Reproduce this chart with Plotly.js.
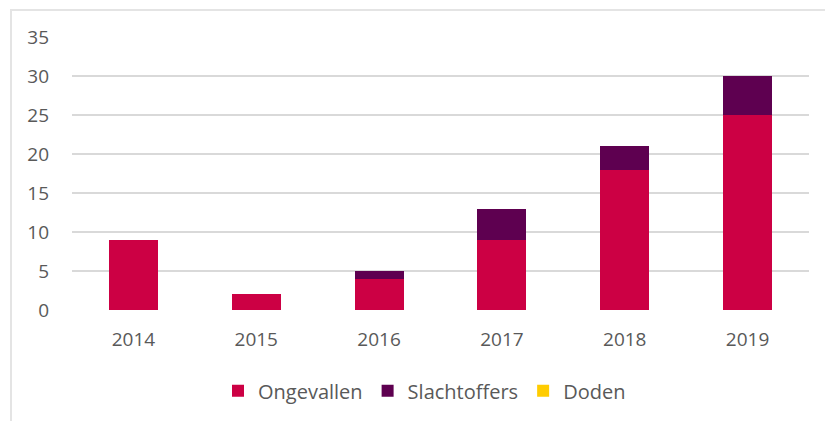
<!DOCTYPE html>
<html>
<head>
<meta charset="utf-8">
<script src="https://cdn.plot.ly/plotly-3.0.1.min.js"></script>
<style>
html,body{margin:0;padding:0;background:#fff;}
#wrap{position:relative;width:825px;height:421px;overflow:hidden;}
#frame{position:absolute;left:10px;top:9px;width:900px;height:500px;border-left:2px solid #e4e4e4;border-top:2px solid #e4e4e4;box-sizing:border-box;}
#chart{position:absolute;left:0;top:0;width:825px;height:421px;}
</style>
</head>
<body>
<div id="wrap"><div id="frame"></div><div id="chart"></div></div>
<script>
const years = ['2014','2015','2016','2017','2018','2019'];
const ongevallen = [9, 2, 4, 9, 18, 25];
const slachtoffers = [0, 0, 1, 4, 3, 5];
const doden = [0, 0, 0, 0, 0, 0];
const seriesNames = ['Ongevallen','Slachtoffers','Doden'];
const seriesColors = ['#cc0044','#5e0050','#ffcc00'];
const yTicks = [0,5,10,15,20,25,30,35];

const font = "'Open Sans', sans-serif";
const vals = [ongevallen, slachtoffers, doden];
const data = vals.map((v,i)=>({
  type:'bar', x:years, y:v, name:seriesNames[i],
  marker:{color:seriesColors[i], line:{width:0}},
  hoverinfo:'y'
}));

const layout = {
  width:825, height:421,
  paper_bgcolor:'rgba(0,0,0,0)', plot_bgcolor:'rgba(0,0,0,0)',
  margin:{l:72, r:16, t:37, b:110},
  barmode:'stack', bargap:0.6,
  font:{family:font, size:19, color:'#595959'},
  xaxis:{type:'category', showgrid:false, zeroline:false, showline:false, ticks:'', ticklen:0,
         ticklabelstandoff:16,
         tickfont:{family:font, size:19, color:'#595959'}},
  yaxis:{range:[0,35], tickvals:yTicks, ticktext:yTicks.map(String), showgrid:true,
         gridcolor:'#d9d9d9', gridwidth:2, zeroline:false, showline:false, ticks:'',
         ticklabelstandoff:22,
         tickfont:{family:font, size:19, color:'#595959'}},
  showlegend:true,
  legend:{orientation:'h', x:0.5 - 16/737, xanchor:'center', y:-0.22, yanchor:'top',
          font:{family:font, size:20, color:'#595959'}, itemwidth:30, tracegroupgap:0,
          traceorder:'normal'}
};
Plotly.newPlot('chart', data, layout, {displayModeBar:false, staticPlot:true});
</script>
</body>
</html>
